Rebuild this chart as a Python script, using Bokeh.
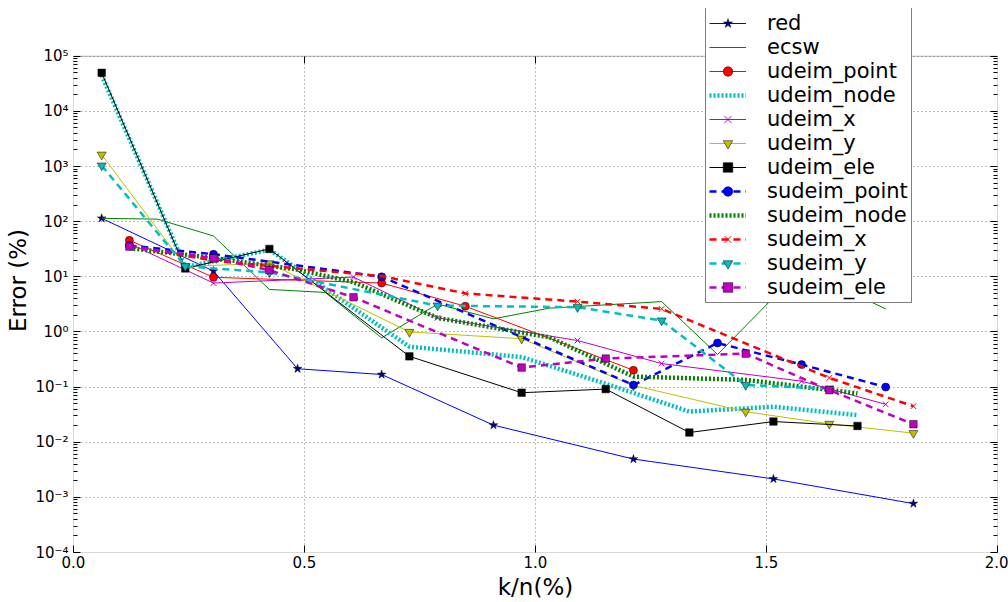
from bokeh.plotting import figure
from bokeh.models import (Range1d, LogAxis, FixedTicker, CustomJSTickFormatter,
                          PrintfTickFormatter, Legend, LegendItem, BoxAnnotation, Title)
from bokeh.embed import file_html
from bokeh.resources import INLINE

# ---- data: relative error (%) against reduced dimension k/n (%) ----
red_x = [0.061, 0.303, 0.485, 0.667, 0.909, 1.212, 1.515, 1.818]
red_y = [115, 12.7, 0.215, 0.169, 0.0204, 0.00495, 0.00216, 0.00077]

ecsw_x = [0.061, 0.182, 0.303, 0.424, 0.545, 0.667, 0.788, 0.909, 1.030, 1.273, 1.394, 1.576, 1.758]
ecsw_y = [115, 111, 55, 5.9, 5.2, 0.78, 3.2, 1.73, 2.7, 3.55, 0.39, 13.8, 2.62]

udeim_point_x = [0.121, 0.303, 0.667, 0.848, 1.212]
udeim_point_y = [46, 9.8, 7.7, 2.93, 0.202]

udeim_node_x = [0.061, 0.242, 0.424, 0.727, 0.970, 1.152, 1.333, 1.515, 1.697]
udeim_node_y = [45000, 15, 31, 0.54, 0.35, 0.115, 0.036, 0.044, 0.031]

udeim_x_x = [0.121, 0.303, 0.606, 0.788, 1.091, 1.273, 1.576, 1.758]
udeim_x_y = [40, 7.7, 9.9, 1.8, 0.70, 0.267, 0.128, 0.0486]

udeim_y_x = [0.061, 0.242, 0.424, 0.727, 0.970, 1.212, 1.455, 1.636, 1.818]
udeim_y_y = [1640, 15.5, 17.5, 1.0, 0.754, 0.107, 0.0358, 0.0215, 0.0146]

udeim_ele_x = [0.061, 0.242, 0.424, 0.727, 0.970, 1.152, 1.333, 1.515, 1.697]
udeim_ele_y = [50000, 14.2, 32, 0.361, 0.079, 0.092, 0.015, 0.0237, 0.0197]

sudeim_point_x = [0.121, 0.303, 0.667, 1.212, 1.394, 1.576, 1.758]
sudeim_point_y = [37, 25.7, 10, 0.109, 0.63, 0.256, 0.1]

sudeim_node_x = [0.121, 0.303, 0.485, 0.606, 0.788, 1.030, 1.212, 1.455, 1.697]
sudeim_node_y = [33, 22, 13.5, 8.0, 1.8, 0.8, 0.155, 0.135, 0.077]

sudeim_x_x = [0.121, 0.303, 0.667, 0.848, 1.091, 1.273, 1.636, 1.818]
sudeim_x_y = [37, 19.5, 10.3, 5.0, 3.55, 2.62, 0.147, 0.045]

sudeim_y_x = [0.061, 0.242, 0.424, 0.788, 1.091, 1.273, 1.455, 1.636]
sudeim_y_y = [1040, 15.5, 12, 3.0, 2.81, 1.61, 0.109, 0.094]

sudeim_ele_x = [0.121, 0.303, 0.424, 0.606, 0.970, 1.152, 1.455, 1.636, 1.818]
sudeim_ele_y = [35.3, 21.8, 13.2, 4.26, 0.226, 0.329, 0.404, 0.088, 0.0212]

x_ticks = [0.0, 0.5, 1.0, 1.5, 2.0]
y_ticks = [10.0 ** e for e in range(-4, 6)]
y_minor = [m * 10.0 ** e for e in range(-4, 5) for m in range(2, 10)]
X_MIN, X_MAX = 0.0, 2.0
Y_MIN, Y_MAX = 1e-4, 1e5

# ---- styles ----
B, G, R, C, M, Y, K = "#0000ff", "#008000", "#ff0000", "#00bfbf", "#bf00bf", "#bfbf00", "#000000"
series = [
    ("red", red_x, red_y, dict(color=B, width=1, dash="solid"), ("star", 9, "#00008b")),
    ("ecsw", ecsw_x, ecsw_y, dict(color=G, width=1, dash="solid"), None),
    ("udeim_point", udeim_point_x, udeim_point_y, dict(color=R, width=1, dash="solid"), ("circle", 8, R)),
    ("udeim_node", udeim_node_x, udeim_node_y, dict(color=C, width=4.5, dash="2 2"), None),
    ("udeim_x", udeim_x_x, udeim_x_y, dict(color=M, width=1, dash="solid"), ("x", 8, M)),
    ("udeim_y", udeim_y_x, udeim_y_y, dict(color=Y, width=1, dash="solid"), ("inverted_triangle", 9, Y)),
    ("udeim_ele", udeim_ele_x, udeim_ele_y, dict(color=K, width=1, dash="solid"), ("square", 7.5, K)),
    ("sudeim_point", sudeim_point_x, sudeim_point_y, dict(color=B, width=2.5, dash="7 5"), ("circle", 8, B)),
    ("sudeim_node", sudeim_node_x, sudeim_node_y, dict(color=G, width=4.5, dash="2 2"), None),
    ("sudeim_x", sudeim_x_x, sudeim_x_y, dict(color=R, width=2.5, dash="7 5"), ("x", 8, R)),
    ("sudeim_y", sudeim_y_x, sudeim_y_y, dict(color=C, width=2.5, dash="7 5"), ("inverted_triangle", 9, C)),
    ("sudeim_ele", sudeim_ele_x, sudeim_ele_y, dict(color=M, width=2.5, dash="7 5"), ("square", 7.5, M)),
]

# Page geometry: axes box spans y = 56..555 px; the frame is stretched up to
# y = 8 px so that the legend (which sticks out above the axes box) is not clipped.
AX_TOP, AX_BOTTOM, FRAME_TOP = 56, 555, 8
px_per_decade = (AX_BOTTOM - AX_TOP) / 9.0
y_frame_top = 10 ** (5 + (AX_TOP - FRAME_TOP) / px_per_decade)

p = figure(width=1008, height=602, x_range=Range1d(X_MIN, X_MAX), y_range=Range1d(Y_MIN, y_frame_top),
           y_axis_type="log", output_backend="svg", toolbar_location=None,
           min_border_left=72, min_border_right=11, min_border_top=FRAME_TOP,
           min_border_bottom=602 - AX_BOTTOM)
p.background_fill_color = "white"
p.border_fill_color = "white"
p.outline_line_color = None

font = "DejaVu Sans"
sup_code = """
const e = Math.round(Math.log10(tick));
const m = {'-':'\u207b','0':'\u2070','1':'\u00b9','2':'\u00b2','3':'\u00b3','4':'\u2074',
           '5':'\u2075','6':'\u2076','7':'\u2077','8':'\u2078','9':'\u2079'};
return '10' + String(e).split('').map(c => m[c]).join('');
"""
x_ticker = FixedTicker(ticks=x_ticks)
y_ticker = FixedTicker(ticks=y_ticks, minor_ticks=y_minor)
blank = CustomJSTickFormatter(code="return '';")


def style_axis(ax):
    ax.axis_line_color = None
    ax.major_tick_in = 7
    ax.major_tick_out = 0
    ax.minor_tick_in = 4
    ax.minor_tick_out = 0
    ax.major_tick_line_color = "black"
    ax.minor_tick_line_color = "black"
    ax.major_label_text_font = font
    ax.major_label_text_font_size = "15px"
    ax.major_label_text_color = "black"
    ax.axis_label_text_font = font
    ax.axis_label_text_font_size = "23px"
    ax.axis_label_text_font_style = "normal"
    ax.axis_label_text_color = "black"


xa = p.xaxis[0]
xa.ticker = x_ticker
xa.formatter = PrintfTickFormatter(format="%.1f")
xa.axis_label = "k/n(%)"
style_axis(xa)
xa.major_label_standoff = 3
xa.axis_label_standoff = 3

ya = p.yaxis[0]
ya.ticker = y_ticker
ya.formatter = CustomJSTickFormatter(code=sup_code)
style_axis(ya)
ya.major_label_standoff = 5

# y label centred on the axes box rather than on the stretched frame
ylab = Title(text="Error (%)", align="center", offset=-(AX_TOP - FRAME_TOP) / 2,
             text_font=font, text_font_size="23px", text_font_style="normal",
             text_color="black", standoff=4)
p.add_layout(ylab, "left")

right = LogAxis(ticker=y_ticker, formatter=blank)
style_axis(right)
right.major_label_text_font_size = "0px"
right.major_label_standoff = 0
p.add_layout(right, "right")

for g in (p.xgrid, p.ygrid):
    g.grid_line_color = "#7f7f7f"
    g.grid_line_dash = "1 3"
    g.grid_line_width = 1
p.xgrid.ticker = x_ticker
p.ygrid.ticker = y_ticker

# blank out the strip above the axes box
p.add_layout(BoxAnnotation(bottom=Y_MAX, fill_color="white", fill_alpha=1,
                           line_alpha=0, level="glyph"))

items = []
for name, xs, ys, ln, mk in series:
    rs = [p.line(xs, ys, line_color=ln["color"], line_width=ln["width"], line_dash=ln["dash"])]
    if mk is not None:
        marker, size, col = mk
        if marker == "x":
            rs.append(p.scatter(xs, ys, marker="x", size=size, line_color=col, line_width=1))
        else:
            rs.append(p.scatter(xs, ys, marker=marker, size=size, fill_color=col,
                                line_color="black", line_width=0.5))
    items.append(LegendItem(label=name, renderers=rs))

# axes box and the inward ticks along its top edge
p.add_layout(BoxAnnotation(left=X_MIN, right=X_MAX, bottom=Y_MIN, top=Y_MAX,
                           fill_alpha=0, line_color="black", line_width=1))
inner = x_ticks[1:-1]
tick_end = 10 ** (5 - 7 / px_per_decade)
p.segment(x0=inner, y0=[Y_MAX] * len(inner), x1=inner, y1=[tick_end] * len(inner),
          line_color="black", line_width=1)

legend = Legend(items=items, location=(632, 249))
legend.label_text_font = font
legend.label_text_font_size = "21px"
legend.label_text_color = "black"
legend.glyph_width = 37
legend.glyph_height = 24
legend.label_height = 24
legend.label_standoff = 21
legend.spacing = 0
legend.padding = 3
legend.margin = 0
legend.border_line_color = "black"
legend.border_line_width = 1
legend.background_fill_color = "white"
legend.background_fill_alpha = 1
p.add_layout(legend)

open("out.html", "w").write(file_html(p, INLINE))
